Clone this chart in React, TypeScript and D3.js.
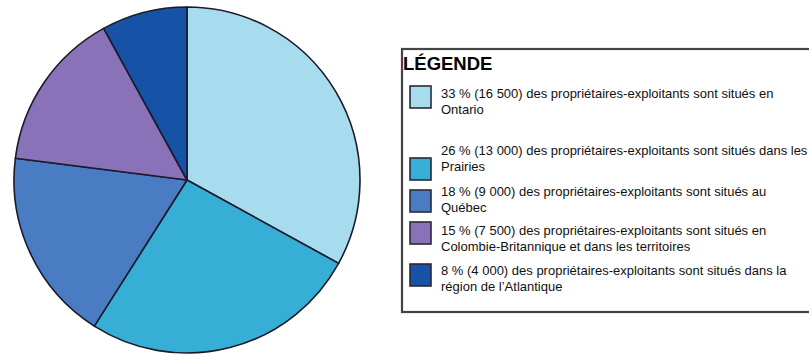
import React from "react";
import * as d3 from "d3";

const regions = ["Ontario", "Prairies", "Québec", "Colombie-Britannique et territoires", "Atlantique"];
const percents = [33, 26, 18, 15, 8];
const colors = ["#a7dcee", "#36aed6", "#4a7cc3", "#8a72b8", "#1653a6"];
const legendLine1 = [
  "33 % (16 500) des propriétaires-exploitants sont situés en",
  "26 % (13 000) des propriétaires-exploitants sont situés dans les",
  "18 % (9 000) des propriétaires-exploitants sont situés au",
  "15 % (7 500) des propriétaires-exploitants sont situés en",
  "8 % (4 000) des propriétaires-exploitants sont situés dans la",
];
const legendLine2 = [
  "Ontario",
  "Prairies",
  "Québec",
  "Colombie-Britannique et dans les territoires",
  "région de l’Atlantique",
];
const legendTitle = "LÉGENDE";

// layout (not data): vertical centre of first text line, top of swatch
const textCenters = [93, 150, 191, 230, 270];
const swatchTops = [86, 158, 190, 222, 264];

export default function App() {
  const W = 809, H = 356;
  const cx = 187, cy = 180, r = 173;
  const pie = d3.pie<number>().sort(null).value((d) => d)(percents);
  const arc = d3.arc<d3.PieArcDatum<number>>().innerRadius(0).outerRadius(r);
  const font = "'Liberation Sans', Arial, sans-serif";
  return (
    <svg width={W} height={H} style={{ position: "absolute", left: 0, top: 0, background: "#fff" }}>
      <g transform={`translate(${cx},${cy})`}>
        {pie.map((p, i) => (
          <path key={regions[i]} d={arc(p) || ""} fill={colors[i]} stroke="#1b1b2b" strokeWidth={1.6} strokeLinejoin="round" />
        ))}
      </g>
      <rect x={402} y={49} width={440} height={263} fill="none" stroke="#444" strokeWidth={2.2} />
      <text x={403} y={70} fontFamily={font} fontWeight="bold" fontSize={18.5} fill="#000">{legendTitle}</text>
      {percents.map((_, i) => (
        <g key={i}>
          <rect x={410} y={swatchTops[i]} width={21} height={22} fill={colors[i]} stroke="#2a2a35" strokeWidth={1.6} />
          <text x={441} y={textCenters[i] + 4.5} fontFamily={font} fontSize={13} fill="#111">{legendLine1[i]}</text>
          <text x={441} y={textCenters[i] + 21} fontFamily={font} fontSize={13} fill="#111">{legendLine2[i]}</text>
        </g>
      ))}
    </svg>
  );
}
